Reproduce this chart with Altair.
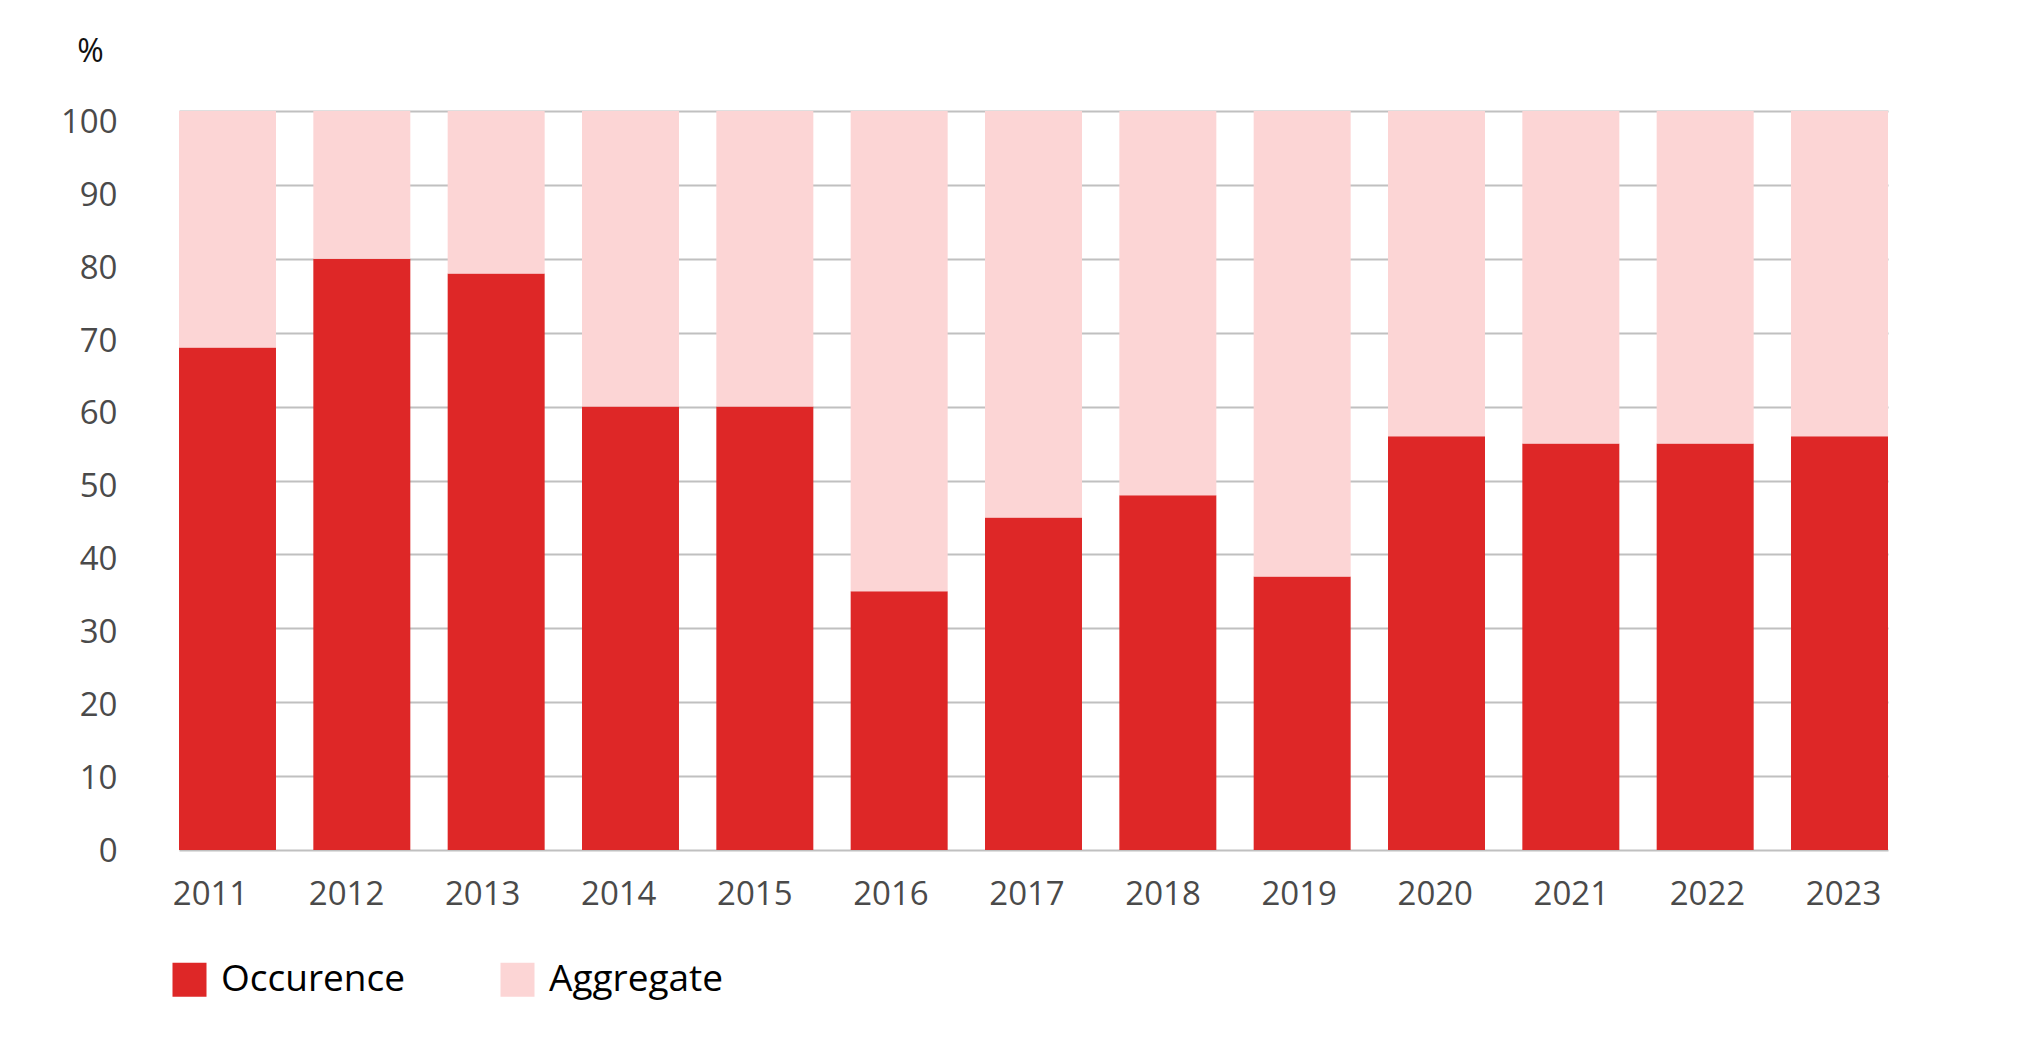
import altair as alt
import pandas as pd

years = ["2011", "2012", "2013", "2014", "2015", "2016", "2017", "2018", "2019", "2020", "2021", "2022", "2023"]
occurence = [68, 80, 78, 60, 60, 35, 45, 48, 37, 56, 55, 55, 56]
aggregate = [32, 20, 22, 40, 40, 65, 55, 52, 63, 44, 45, 45, 44]
series = ["Occurence", "Aggregate"]
colors = ["#de2727", "#fcd5d5"]
y_ticks = [0, 10, 20, 30, 40, 50, 60, 70, 80, 90, 100]

rows = []
for i, yr in enumerate(years):
    rows.append({"year": yr, "series": series[0], "value": occurence[i], "ord": 0})
    rows.append({"year": yr, "series": series[1], "value": aggregate[i], "ord": 1})
df = pd.DataFrame(rows)

FONT = "Open Sans"

chart = alt.Chart(df).mark_bar().encode(
    x=alt.X("year:N", sort=years,
            scale=alt.Scale(range=[27, 1736], paddingInner=0.278, paddingOuter=0),
            axis=alt.Axis(title=None, labelAngle=0, domain=False, ticks=False,
                          labelPadding=28, labelFontSize=33, labelColor="#4a4a4a",
                          labelFont=FONT, grid=False,
                          labelOffset={"expr": "-17 + 1.75*(toNumber(datum.value) - 2011)"})),
    y=alt.Y("value:Q", stack="zero",
            scale=alt.Scale(domain=[0, 100], nice=False),
            axis=alt.Axis(title="%", titleAngle=0, titleX=-62, titleY=-60,
                          titleAlign="center", titleBaseline="middle",
                          titleFontSize=32, titleFontWeight="normal", titleColor="#111",
                          titleFont=FONT,
                          values=y_ticks, domain=False, ticks=False, labelPadding=35,
                          labelFontSize=33, labelColor="#4a4a4a", labelFont=FONT,
                          labelOffset={"expr": "1 + 0.105*datum.value"},
                          gridColor="#c0c0c0", gridWidth=2)),
    color=alt.Color("series:N",
                    scale=alt.Scale(domain=series, range=colors),
                    legend=alt.Legend(title=None, orient="none", legendX=19, legendY=850,
                                      direction="horizontal", symbolType="square",
                                      symbolSize=1156, symbolStrokeWidth=0,
                                      labelFontSize=37, labelFont=FONT, labelColor="#000",
                                      labelOffset=13, columnPadding=93, labelLimit=400)),
    order=alt.Order("ord:Q"),
).properties(
    width=1807, height=739,
    autosize=alt.AutoSizeParams(type="none"),
    padding={"left": 144, "top": 103, "right": 70, "bottom": 180},
).configure_view(stroke=None)

chart.save("out.html", embed_options={"renderer": "svg", "actions": False})
